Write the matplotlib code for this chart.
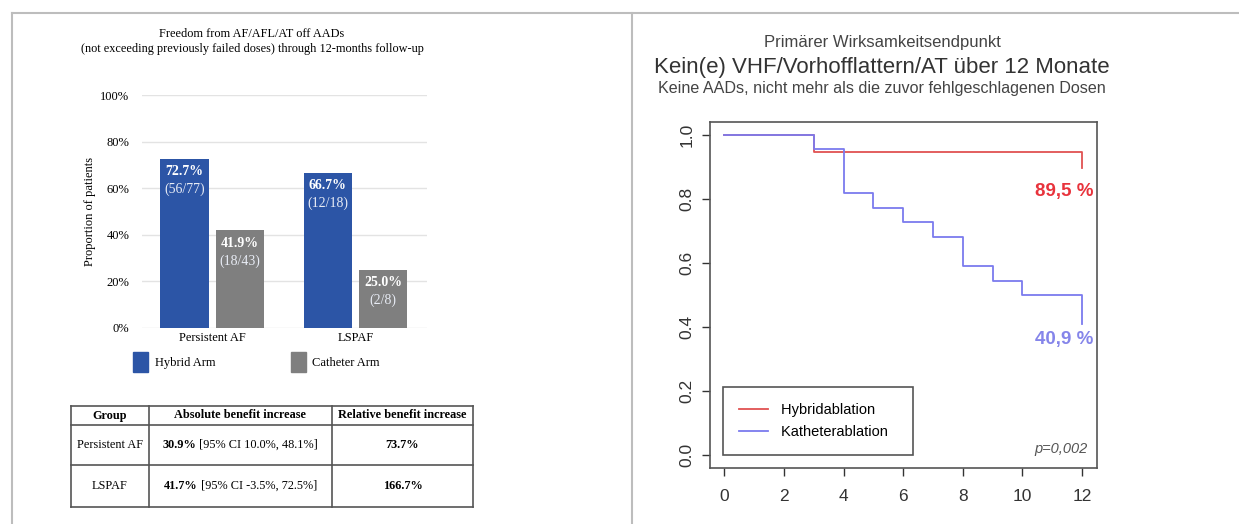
import matplotlib.pyplot as plt
from matplotlib.lines import Line2D
from matplotlib.patches import Rectangle

W, H = 1239, 524

# left panel: bar chart data
groups = ["Persistent AF", "LSPAF"]
hybrid_pct = [72.7, 66.7]
hybrid_n = ["(56/77)", "(12/18)"]
catheter_pct = [41.9, 25.0]
catheter_n = ["(18/43)", "(2/8)"]
y_ticks = [0, 20, 40, 60, 80, 100]

table_header = ["Group", "Absolute benefit increase", "Relative benefit increase"]
table_group = ["Persistent AF", "LSPAF"]
table_abs = ["30.9%", "41.7%"]
table_ci = [" [95% CI 10.0%, 48.1%]", " [95% CI -3.5%, 72.5%]"]
table_rel = ["73.7%", "166.7%"]

# right panel: Kaplan-Meier steps (months, survival)
hyb_t = [0, 3, 12, 12]
hyb_s = [1.0, 0.947, 0.947, 0.895]
kat_t = [0, 3, 4, 5, 6, 7, 8, 9, 10, 12, 12]
kat_s = [1.0, 0.955, 0.818, 0.773, 0.727, 0.682, 0.591, 0.545, 0.5, 0.5, 0.409]


def box(x0, y0, x1, y1):
    # pixel box (top-left origin) -> figure fraction rect
    return [x0 / W, 1 - y1 / H, (x1 - x0) / W, (y1 - y0) / H]


def fx(x):
    return x / W


def fy(y):
    return 1 - y / H


fig = plt.figure(figsize=(W / 100, H / 100), dpi=100)
fig.patch.set_facecolor("white")

# frame lines of the slide
fig.add_artist(Line2D([fx(12), fx(1239)], [fy(13), fy(13)], color="#bdbdbd", lw=1.5))
fig.add_artist(Line2D([fx(12), fx(12)], [fy(13), fy(524)], color="#bdbdbd", lw=1.5))
fig.add_artist(Line2D([fx(632), fx(632)], [fy(13), fy(524)], color="#bdbdbd", lw=1.5))

serif = "Liberation Serif"
sans = "Liberation Sans"

# ---------- bar chart ----------
ax = fig.add_axes(box(142, 95, 427, 328))
blue = "#2c55a6"
grey = "#7f7f7f"
xs = [0, 1]
bw = 0.336
gap = 0.05
hyb_x = [x - bw / 2 - gap / 2 for x in xs]
cat_x = [x + bw / 2 + gap / 2 for x in xs]
ax.bar(hyb_x, hybrid_pct, bw, color=blue, zorder=2)
ax.bar(cat_x, catheter_pct, bw, color=grey, zorder=2)
for bx, vals, ns in ((hyb_x, hybrid_pct, hybrid_n), (cat_x, catheter_pct, catheter_n)):
    for x, p, n in zip(bx, vals, ns):
        ax.text(x, p - 5.5, f"{p:.1f}%", ha="center", va="center", color="white",
                fontsize=10, fontweight="bold", family=serif)
        ax.text(x, p - 13.3, n, ha="center", va="center", color="#e8ecf5", fontsize=10,
                family=serif)
ax.set_xlim(-0.49, 1.50)
ax.set_ylim(0, 100)
ax.set_yticks(y_ticks)
ax.set_yticklabels([f"{t}%" for t in y_ticks], family=serif, fontsize=9)
ax.set_xticks(xs)
ax.set_xticklabels(groups, family=serif, fontsize=9)
ax.tick_params(length=0, pad=3)
ax.tick_params(axis="y", pad=9)
ax.grid(axis="y", color="#e3e3e3", lw=1, zorder=0)
for s in ax.spines.values():
    s.set_visible(False)
ax.set_ylabel("Proportion of patients", family=serif, fontsize=9, labelpad=3)

fig.text(fx(252), fy(34), "Freedom from AF/AFL/AT off AADs", ha="center", va="center",
         family=serif, fontsize=8.8)
fig.text(fx(252), fy(49), "(not exceeding previously failed doses) through 12-months follow-up",
         ha="center", va="center", family=serif, fontsize=8.8)

# legend of bar chart
fig.add_artist(Rectangle((fx(133), fy(372)), 15 / W, 20 / H, color=blue))
fig.text(fx(155), fy(363), "Hybrid Arm", va="center", family=serif, fontsize=9)
fig.add_artist(Rectangle((fx(291), fy(372)), 15 / W, 20 / H, color=grey))
fig.text(fx(312), fy(363), "Catheter Arm", va="center", family=serif, fontsize=9)

# ---------- table ----------
tx = [71, 149, 332, 473]
ty = [406, 425, 465, 507]
tc = "#555555"
tfs = 8.8
for x in tx:
    fig.add_artist(Line2D([fx(x), fx(x)], [fy(ty[0]), fy(ty[-1])], color=tc, lw=1.2))
for y in ty:
    fig.add_artist(Line2D([fx(tx[0]), fx(tx[-1])], [fy(y), fy(y)], color=tc, lw=1.2))
for i, h in enumerate(table_header):
    fig.text(fx((tx[i] + tx[i + 1]) / 2), fy((ty[0] + ty[1]) / 2), h, ha="center", va="center",
             family=serif, fontsize=tfs, fontweight="bold")
renderer = fig.canvas.get_renderer()
for r in range(2):
    yc = fy((ty[r + 1] + ty[r + 2]) / 2)
    fig.text(fx((tx[0] + tx[1]) / 2), yc, table_group[r], ha="center", va="center",
             family=serif, fontsize=tfs)
    t1 = fig.text(0, yc, table_abs[r], ha="left", va="center",
                  family=serif, fontsize=tfs, fontweight="bold")
    t2 = fig.text(0, yc, table_ci[r], ha="left", va="center", family=serif, fontsize=tfs)
    w1 = t1.get_window_extent(renderer).width
    w2 = t2.get_window_extent(renderer).width
    x0 = (tx[1] + tx[2]) / 2 - (w1 + w2) / 2
    t1.set_x(fx(x0))
    t2.set_x(fx(x0 + w1))
    fig.text(fx((tx[2] + tx[3]) / 2), yc, table_rel[r], ha="center", va="center",
             family=serif, fontsize=tfs, fontweight="bold")

# ---------- Kaplan-Meier ----------
ax2 = fig.add_axes(box(710, 122, 1097, 468))
red = "#e05252"
lblue = "#7b7bee"
ax2.step(hyb_t, hyb_s, where="post", color=red, lw=1.3)
ax2.step(kat_t, kat_s, where="post", color=lblue, lw=1.3)
ax2.set_xlim(-0.48, 12.5)
ax2.set_ylim(-0.04, 1.04)
ax2.set_xticks(range(0, 13, 2))
ax2.set_yticks([0, 0.2, 0.4, 0.6, 0.8, 1.0])
ax2.set_yticklabels(["0.0", "0.2", "0.4", "0.6", "0.8", "1.0"], family=sans, fontsize=12.5)
ax2.set_xticklabels([str(t) for t in range(0, 13, 2)], family=sans, fontsize=12.5)
ax2.tick_params(colors="#333333", length=6, width=1, pad=9)
ax2.tick_params(axis="y", labelrotation=90, pad=5)
for lab in ax2.get_yticklabels():
    lab.set_va("center")
for s in ax2.spines.values():
    s.set_color("#555555")
    s.set_linewidth(1.2)
ax2.text(12.37, 0.822, "89,5 %", color="#e8333c", ha="right", va="center",
         family=sans, fontsize=13.5, fontweight="bold")
ax2.text(12.37, 0.36, "40,9 %", color="#8585ea", ha="right", va="center",
         family=sans, fontsize=13.5, fontweight="bold")
ax2.text(12.2, 0.02, "p=0,002", color="#555555", ha="right", va="center",
         family=sans, fontsize=10.5, style="italic")
leg = ax2.legend([Line2D([], [], color=red, lw=1.3), Line2D([], [], color=lblue, lw=1.3)],
                 ["Hybridablation  ", "Katheterablation  "], loc="lower left",
                 bbox_to_anchor=(0.034, 0.038), borderaxespad=0,
                 prop={"family": sans, "size": 10.5},
                 fancybox=False, edgecolor="#555555", framealpha=1, handlelength=2.0,
                 borderpad=1.1, labelspacing=0.55, handletextpad=0.9)
leg.get_frame().set_linewidth(1.2)

fig.text(fx(882), fy(42), "Primärer Wirksamkeitsendpunkt", ha="center", va="center",
         family=sans, fontsize=12, color="#444444")
fig.text(fx(882), fy(68), "Kein(e) VHF/Vorhofflattern/AT über 12 Monate", ha="center",
         va="center", family=sans, fontsize=16, color="#333333")
fig.text(fx(882), fy(88), "Keine AADs, nicht mehr als die zuvor fehlgeschlagenen Dosen",
         ha="center", va="center", family=sans, fontsize=11.6, color="#444444")

fig.savefig("out.png", dpi=100)
